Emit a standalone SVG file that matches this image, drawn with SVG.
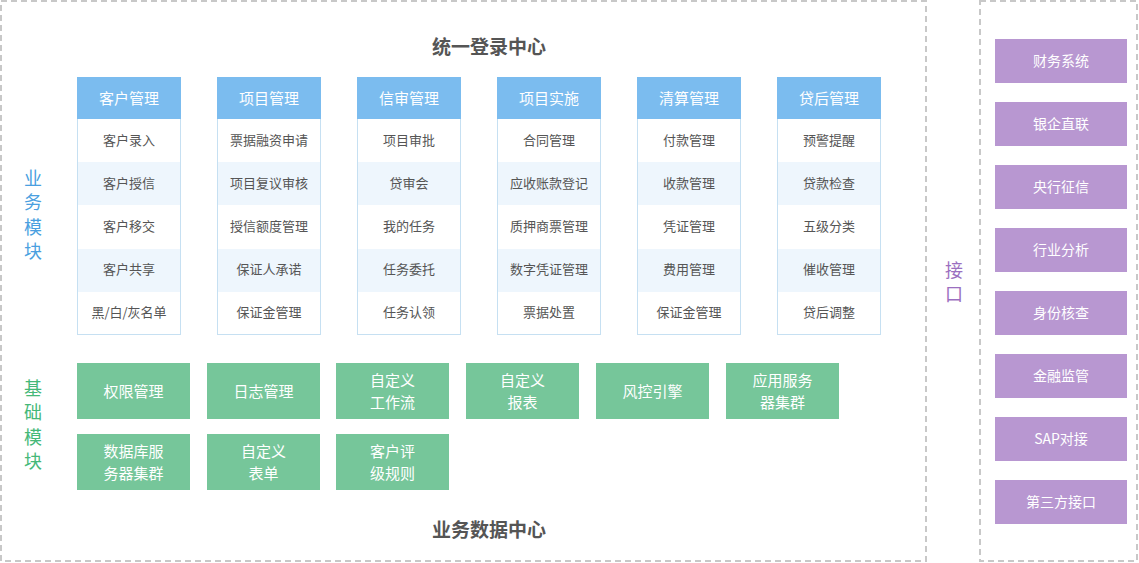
<svg xmlns="http://www.w3.org/2000/svg" width="1139" height="563" viewBox="0 0 1139 563">
<style>
text{font-family:"Microsoft YaHei","Noto Sans CJK SC","Liberation Sans",sans-serif;text-anchor:middle;dominant-baseline:central}
.frame{fill:none;stroke:#c8c8c8;stroke-width:2;stroke-dasharray:6 4}
.title{font-size:19px;font-weight:bold;fill:#555}
.col{fill:#fff;stroke:#c6e0f2;stroke-width:1}
.hdr{fill:#7bbcef}
.alt{fill:#eef6fd}
.ht{font-size:15px;fill:#fff}
.rt{font-size:13px;fill:#555}
.g{fill:#76c69a}
.gt{font-size:15px;fill:#fff}
.p{fill:#b897d1}
.pt{font-size:14px;fill:#fff}
.vb{font-size:18px;fill:#4a9fe0}
.vg{font-size:18px;fill:#45b878}
.vp{font-size:18px;fill:#9b6fc0}
</style>
<rect class="frame" x="1" y="1" width="925" height="560"/>
<rect class="frame" x="980" y="1" width="157" height="560"/>
<text class="title" x="489" y="45">统一登录中心</text>
<text class="title" x="489" y="528">业务数据中心</text>
<g id="label-business"><text class="vb" x="33" y="177">业</text><text class="vb" x="33" y="201">务</text><text class="vb" x="33" y="226">模</text><text class="vb" x="33" y="250">块</text></g>
<g id="label-base"><text class="vg" x="33" y="387">基</text><text class="vg" x="33" y="411">础</text><text class="vg" x="33" y="436">模</text><text class="vg" x="33" y="460">块</text></g>
<g id="label-interface"><text class="vp" x="954" y="269">接</text><text class="vp" x="954" y="293">口</text></g>

<g id="col-customer">
<rect class="col" x="77.5" y="77.5" width="103" height="257"/>
<rect class="alt" x="78" y="162" width="102" height="43"/><rect class="alt" x="78" y="249" width="102" height="43"/>
<rect class="hdr" x="77" y="77" width="104" height="42"/>
<text class="ht" x="129" y="97">客户管理</text>
<text class="rt" x="129" y="139">客户录入</text><text class="rt" x="129" y="182">客户授信</text><text class="rt" x="129" y="225">客户移交</text><text class="rt" x="129" y="268">客户共享</text><text class="rt" x="129" y="311">黑/白/灰名单</text>
</g>
<g id="col-project">
<rect class="col" x="217.5" y="77.5" width="103" height="257"/>
<rect class="alt" x="218" y="162" width="102" height="43"/><rect class="alt" x="218" y="249" width="102" height="43"/>
<rect class="hdr" x="217" y="77" width="104" height="42"/>
<text class="ht" x="269" y="97">项目管理</text>
<text class="rt" x="269" y="139">票据融资申请</text><text class="rt" x="269" y="182">项目复议审核</text><text class="rt" x="269" y="225">授信额度管理</text><text class="rt" x="269" y="268">保证人承诺</text><text class="rt" x="269" y="311">保证金管理</text>
</g>
<g id="col-credit">
<rect class="col" x="357.5" y="77.5" width="103" height="257"/>
<rect class="alt" x="358" y="162" width="102" height="43"/><rect class="alt" x="358" y="249" width="102" height="43"/>
<rect class="hdr" x="357" y="77" width="104" height="42"/>
<text class="ht" x="409" y="97">信审管理</text>
<text class="rt" x="409" y="139">项目审批</text><text class="rt" x="409" y="182">贷审会</text><text class="rt" x="409" y="225">我的任务</text><text class="rt" x="409" y="268">任务委托</text><text class="rt" x="409" y="311">任务认领</text>
</g>
<g id="col-impl">
<rect class="col" x="497.5" y="77.5" width="103" height="257"/>
<rect class="alt" x="498" y="162" width="102" height="43"/><rect class="alt" x="498" y="249" width="102" height="43"/>
<rect class="hdr" x="497" y="77" width="104" height="42"/>
<text class="ht" x="549" y="97">项目实施</text>
<text class="rt" x="549" y="139">合同管理</text><text class="rt" x="549" y="182">应收账款登记</text><text class="rt" x="549" y="225">质押商票管理</text><text class="rt" x="549" y="268">数字凭证管理</text><text class="rt" x="549" y="311">票据处置</text>
</g>
<g id="col-clearing">
<rect class="col" x="637.5" y="77.5" width="103" height="257"/>
<rect class="alt" x="638" y="162" width="102" height="43"/><rect class="alt" x="638" y="249" width="102" height="43"/>
<rect class="hdr" x="637" y="77" width="104" height="42"/>
<text class="ht" x="689" y="97">清算管理</text>
<text class="rt" x="689" y="139">付款管理</text><text class="rt" x="689" y="182">收款管理</text><text class="rt" x="689" y="225">凭证管理</text><text class="rt" x="689" y="268">费用管理</text><text class="rt" x="689" y="311">保证金管理</text>
</g>
<g id="col-postloan">
<rect class="col" x="777.5" y="77.5" width="103" height="257"/>
<rect class="alt" x="778" y="162" width="102" height="43"/><rect class="alt" x="778" y="249" width="102" height="43"/>
<rect class="hdr" x="777" y="77" width="104" height="42"/>
<text class="ht" x="829" y="97">贷后管理</text>
<text class="rt" x="829" y="139">预警提醒</text><text class="rt" x="829" y="182">贷款检查</text><text class="rt" x="829" y="225">五级分类</text><text class="rt" x="829" y="268">催收管理</text><text class="rt" x="829" y="311">贷后调整</text>
</g>

<g id="base-auth"><rect class="g" x="77" y="363" width="113" height="56"/><text class="gt" x="133.5" y="390">权限管理</text></g>
<g id="base-log"><rect class="g" x="207" y="363" width="113" height="56"/><text class="gt" x="263.5" y="390">日志管理</text></g>
<g id="base-workflow"><rect class="g" x="336" y="363" width="113" height="56"/><text class="gt" x="392.5" y="379">自定义</text><text class="gt" x="392.5" y="401">工作流</text></g>
<g id="base-report"><rect class="g" x="466" y="363" width="113" height="56"/><text class="gt" x="522.5" y="379">自定义</text><text class="gt" x="522.5" y="401">报表</text></g>
<g id="base-risk"><rect class="g" x="596" y="363" width="113" height="56"/><text class="gt" x="652.5" y="390">风控引擎</text></g>
<g id="base-appcluster"><rect class="g" x="726" y="363" width="113" height="56"/><text class="gt" x="782.5" y="379">应用服务</text><text class="gt" x="782.5" y="401">器集群</text></g>
<g id="base-dbcluster"><rect class="g" x="77" y="434" width="113" height="56"/><text class="gt" x="133.5" y="450">数据库服</text><text class="gt" x="133.5" y="472">务器集群</text></g>
<g id="base-form"><rect class="g" x="207" y="434" width="113" height="56"/><text class="gt" x="263.5" y="450">自定义</text><text class="gt" x="263.5" y="472">表单</text></g>
<g id="base-rating"><rect class="g" x="336" y="434" width="113" height="56"/><text class="gt" x="392.5" y="450">客户评</text><text class="gt" x="392.5" y="472">级规则</text></g>

<g id="if-finance"><rect class="p" x="995" y="39" width="132" height="44"/><text class="pt" x="1061" y="60">财务系统</text></g>
<g id="if-bank"><rect class="p" x="995" y="102" width="132" height="44"/><text class="pt" x="1061" y="123">银企直联</text></g>
<g id="if-pboc"><rect class="p" x="995" y="165" width="132" height="44"/><text class="pt" x="1061" y="186">央行征信</text></g>
<g id="if-industry"><rect class="p" x="995" y="228" width="132" height="44"/><text class="pt" x="1061" y="249">行业分析</text></g>
<g id="if-identity"><rect class="p" x="995" y="291" width="132" height="44"/><text class="pt" x="1061" y="312">身份核查</text></g>
<g id="if-regulator"><rect class="p" x="995" y="354" width="132" height="44"/><text class="pt" x="1061" y="375">金融监管</text></g>
<g id="if-sap"><rect class="p" x="995" y="417" width="132" height="44"/><text class="pt" x="1061" y="438">SAP对接</text></g>
<g id="if-third"><rect class="p" x="995" y="480" width="132" height="44"/><text class="pt" x="1061" y="501">第三方接口</text></g>
<g id="connectors"/>
</svg>
